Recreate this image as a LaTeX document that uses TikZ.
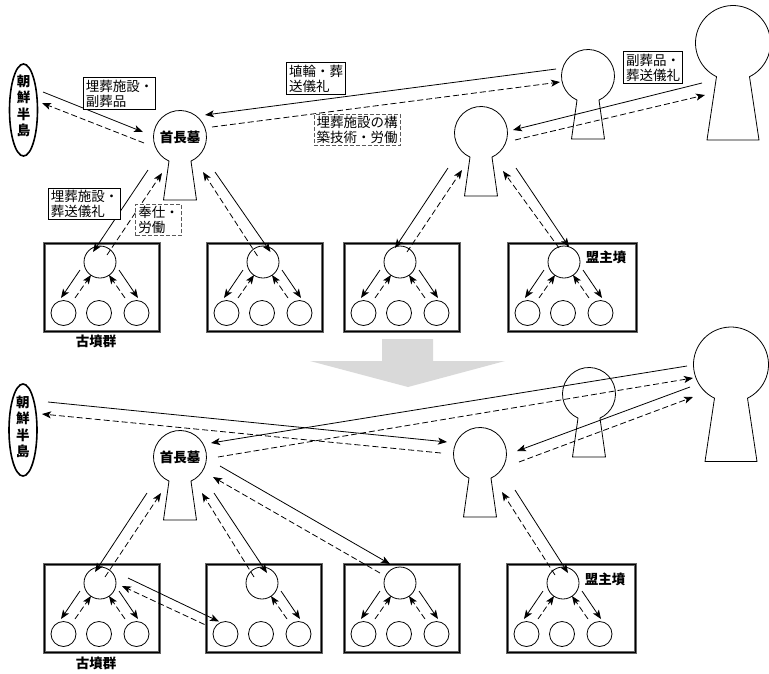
\documentclass[tikz,border=0pt]{standalone}
\usepackage{fontspec}
\newfontfamily\jp{Noto Sans CJK JP}
\usetikzlibrary{arrows.meta,calc,shapes.geometric}
\tikzset{
  sarr/.style={-{Stealth[length=9pt,width=7pt,inset=2.2pt]}, line width=0.8pt},
  darr/.style={sarr, dash pattern=on 6pt off 3pt},
  lbl/.style={draw, fill=white, line width=0.8pt, font=\jp\fontsize{13.5}{15}\selectfont, align=left, inner xsep=2.5pt, inner ysep=2pt},
  dlbl/.style={lbl, draw=black!65, line width=1pt, dash pattern=on 4pt off 2pt},
  btxt/.style={font=\jp\bfseries\fontsize{13.5}{16.5}\selectfont, align=center, inner sep=0pt},
  kh/.style={draw, line width=0.8pt},
  tc/.style={circle, draw, line width=0.8pt, minimum size=32pt, inner sep=0pt},
  bc/.style={circle, draw, line width=0.8pt, minimum size=25pt, inner sep=0pt},
  grpbox/.style={draw=black!60, line width=3pt, inner sep=0pt},
  korea/.style={ellipse, draw, line width=1.6pt, minimum width=28pt, minimum height=92pt, inner sep=0pt}
}
% #1 centre, #2 radius, #3 half angle, #4 neck top half width, #5 neck top depth, #6 bottom half width, #7 bottom depth
\newcommand\keyhole[7]{%
  \draw[kh] ([shift={(-#4,#5)}]#1) arc[start angle={90+#3}, end angle={450-#3}, radius=#2]
    -- ([shift={(#6,#7)}]#1) -- ([shift={(-#6,#7)}]#1) -- cycle;}
\newcommand\smallkey[1]{\keyhole{#1}{26.5}{24.5}{11}{24.1}{16.5}{63}}
\newcommand\bigkey[1]{\keyhole{#1}{37.5}{26.1}{16.5}{33.7}{26}{97}}
% #1 name, #2 left x, #3 top y, #4 width
\newcommand\grp[4]{%
  \node[grpbox, minimum width=#4pt, minimum height=88pt, anchor=north west] (#1) at (#2,#3) {};
  \draw[line width=0.6pt] ([shift={(1.6,1.6)}]#1.north west) rectangle ([shift={(-1.6,-1.6)}]#1.south east);
  \node[tc] (#1-t) at ({#2+57},{#3+20}) {};
  \node[bc] (#1-a) at ({#2+20.5},{#3+71}) {};
  \node[bc] (#1-b) at ({#2+56},{#3+71}) {};
  \node[bc] (#1-c) at ({#2+93.5},{#3+71}) {};}
\newcommand\leftpair[1]{%
  \draw[sarr] ([shift={(-20,8)}]#1-t.center) -- ([shift={(-39,36)}]#1-t.center);
  \draw[darr] ([shift={(-25,36)}]#1-t.center) -- ([shift={(-9,13)}]#1-t.center);}
\newcommand\rightpair[1]{%
  \draw[sarr] ([shift={(19,8)}]#1-t.center) -- ([shift={(38,36)}]#1-t.center);
  \draw[darr] ([shift={(25,36)}]#1-t.center) -- ([shift={(9,13)}]#1-t.center);}

\begin{document}
\begin{tikzpicture}[x=1pt,y=-1pt]
\useasboundingbox (0,0) rectangle (769,673);

% ---------------- top (before) ----------------
\node[korea] (K1) at (23.5,110) {};
\node[btxt] (K1t) at (23.5,106) {朝\\鮮\\半\\島};
\coordinate (C1) at (180,137);
\coordinate (M1) at (481,133);
\coordinate (S1) at (588,76);
\coordinate (B1) at (733,43);
\smallkey{C1}
\smallkey{M1}
\smallkey{S1}
\bigkey{B1}
\node[btxt] (C1t) at (180,137) {首長墓};

\grp{g1}{43}{242}{115}
\grp{g2}{206}{242}{115}
\grp{g3}{343}{242}{115}
\grp{g4}{507}{242}{128}
\foreach \g in {g1,g2,g3,g4} {\leftpair{\g}\rightpair{\g}}
\node[btxt] (lg1) at (96,341) {古墳群};
\node[btxt] (lm1) at (606,257) {盟主墳};

\draw[sarr] ([shift={(19.5,-18)}]K1.center) -- ([shift={(-37,-5)}]C1);
\draw[darr] ([shift={(-36,6)}]C1) -- ([shift={(18.5,-7)}]K1.center);
\draw[sarr] ([shift={(-32,-7)}]S1) -- ([shift={(25,-22)}]C1);
\draw[darr] ([shift={(32,-10)}]C1) -- ([shift={(-28,6)}]S1);
\draw[sarr] ([shift={(-31,40)}]B1) -- ([shift={(32,-3)}]M1);
\draw[darr] ([shift={(34,7)}]M1) -- ([shift={(-28,52)}]B1);
\draw[sarr] ([shift={(-32,33)}]C1) -- ([shift={(-7,-10)}]g1-t.center);
\draw[darr] ([shift={(7,-7)}]g1-t.center) -- ([shift={(-18,36)}]C1);
\draw[sarr] ([shift={(35,35)}]C1) -- ([shift={(7.5,-10)}]g2-t.center);
\draw[darr] ([shift={(-5.5,-6)}]g2-t.center) -- ([shift={(23,35)}]C1);
\draw[sarr] ([shift={(-33,35)}]M1) -- ([shift={(-5,-14)}]g3-t.center);
\draw[darr] ([shift={(7,-10)}]g3-t.center) -- ([shift={(-19,37)}]M1);
\draw[sarr] ([shift={(35,35)}]M1) -- ([shift={(5,-15)}]g4-t.center);
\draw[darr] ([shift={(-5,-14)}]g4-t.center) -- ([shift={(22,38)}]M1);

\node[lbl] (L1) at (119.5,93.5) {埋葬施設・\\副葬品};
\node[lbl] (L2) at (84.5,204) {埋葬施設・\\葬送儀礼};
\node[dlbl] (L3) at (158.5,220) {奉仕・\\労働};
\node[lbl] (L4) at (316,78.5) {埴輪・葬\\送儀礼};
\node[dlbl] (L5) at (357,130) {埋葬施設の構\\築技術・労働};
\node[lbl] (L6) at (653,67.5) {副葬品・\\葬送儀礼};

% ---------------- transition arrow ----------------
\fill[gray!30] (382,339) -- (433,339) -- (433,361) -- (505,361) -- (408,387) -- (310,361) -- (382,361) -- cycle;

% ---------------- bottom (after) ----------------
\node[korea] (K2) at (23,430) {};
\node[btxt] (K2t) at (23,427) {朝\\鮮\\半\\島};
\coordinate (C2) at (180,457);
\coordinate (M2) at (480,454);
\coordinate (S2) at (589,394);
\coordinate (B2) at (731,364.5);
\smallkey{C2}
\smallkey{M2}
\smallkey{S2}
\bigkey{B2}
\node[btxt] (C2t) at (180,457) {首長墓};

\grp{h1}{43}{563}{115}
\grp{h2}{205}{563}{115}
\grp{h3}{343}{563}{115}
\grp{h4}{506}{563}{128}
\leftpair{h1}\rightpair{h1}
\rightpair{h2}
\leftpair{h3}\rightpair{h3}
\leftpair{h4}\rightpair{h4}
\node[btxt] (lg2) at (96,663) {古墳群};
\node[btxt] (lm2) at (605,579) {盟主墳};

\draw[sarr] ([shift={(25,-28)}]K2.center) -- ([shift={(-33,-12)}]M2);
\draw[darr] ([shift={(-39,-1)}]M2) -- ([shift={(19,-16)}]K2.center);
\draw[sarr] ([shift={(-44,1.5)}]B2) -- ([shift={(31,-14)}]C2);
\draw[darr] ([shift={(38,0)}]C2) -- ([shift={(-38,13.5)}]B2);
\draw[sarr] ([shift={(-41,22.5)}]B2) -- ([shift={(37,-3)}]M2);
\draw[darr] ([shift={(39,8)}]M2) -- ([shift={(-38,32.5)}]B2);
\draw[sarr] ([shift={(-33,36)}]C2) -- ([shift={(-5,-11)}]h1-t.center);
\draw[darr] ([shift={(5,-6)}]h1-t.center) -- ([shift={(-19,36)}]C2);
\draw[sarr] ([shift={(34,36)}]C2) -- ([shift={(5,-10)}]h2-t.center);
\draw[darr] ([shift={(-8,-6)}]h2-t.center) -- ([shift={(22,36)}]C2);
\draw[sarr] ([shift={(40,9)}]C2) -- ([shift={(-10,-19)}]h3-t.center);
\draw[darr] ([shift={(-20,-10)}]h3-t.center) -- ([shift={(33,20)}]C2);
\draw[sarr] ([shift={(28,-5)}]h1-t.center) -- ([shift={(-6.5,-12.5)}]h2-a.center);
\draw[darr] ([shift={(-21,-9.5)}]h2-a.center) -- ([shift={(22,3)}]h1-t.center);
\draw[sarr] ([shift={(35,36)}]M2) -- ([shift={(5,-10)}]h4-t.center);
\draw[darr] ([shift={(-8,-8)}]h4-t.center) -- ([shift={(22,38)}]M2);
\end{tikzpicture}
\end{document}
